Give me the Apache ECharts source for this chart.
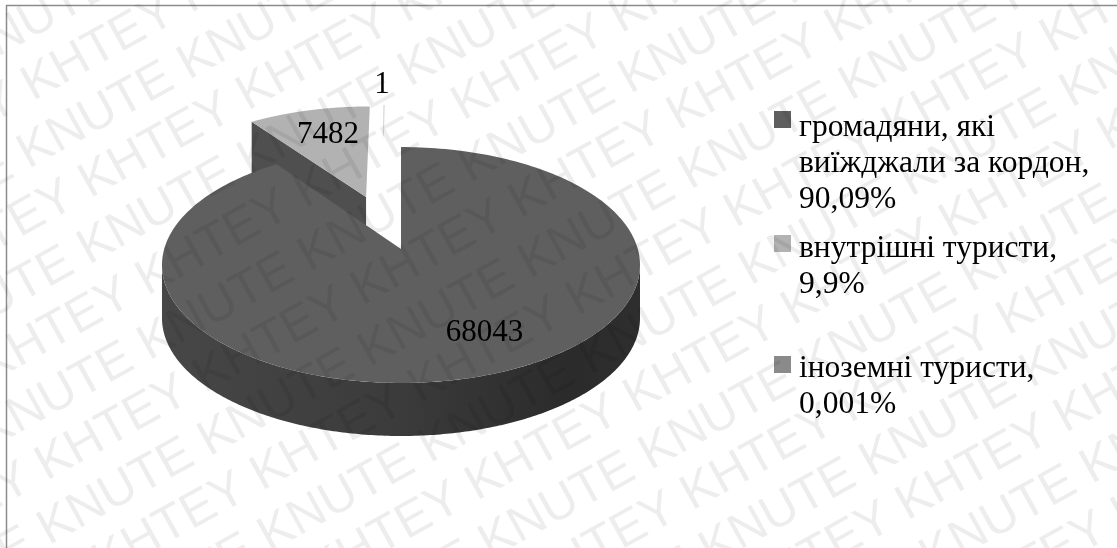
<!DOCTYPE html>
<html><head><meta charset="utf-8">
<style>html,body{margin:0;padding:0;background:#fff}#c{width:1117px;height:548px}</style>
<script src="https://cdn.jsdelivr.net/npm/echarts@6/dist/echarts.min.js"></script>
</head><body><div id="c"></div>
<script>
const categories = ['громадяни, які\nвиїжджали за кордон,\n90,09%', 'внутрішні туристи,\n9,9%', 'іноземні туристи,\n0,001%'];
const values = [68043, 7482, 1];
const colors = ['#5f5f5f', '#b2b2b2', '#8a8a8a'];
const explode = [[0, 0], [-0.148, 0.478], [-0.086, 0.495]];
const labelPos = [[484.5, 333], [328, 135], [382, 85]];
const legendTops = [110, 231, 351];
const legendLines = [3, 2, 2];
const swatchOffsets = [1, 4, 5];

const total = values.reduce((a, b) => a + b, 0);
const AX = 401, AY = 249, B = 236.8, A = 115.8, K = 0.1357, DEPTH = 53;
const FONT = '"Liberation Serif","Times New Roman",serif';

function proj(u, v) { const w = 1 + K * v; return [AX + B * u / w, AY - A * v / w]; }
function rim(th, o) { return proj(Math.sin(th) + o[0], Math.cos(th) + o[1]); }

function renderSlice(i) {
  return function (params, api) {
    const val = api.value(0);
    let before = 0;
    for (let j = 0; j < i; j++) before += values[j];
    const t0 = before / total * Math.PI * 2, t1 = (before + val) / total * Math.PI * 2;
    const o = explode[i];
    const shift = i === 1 ? -2 : 0;
    const P = p => [p[0] + shift, p[1]];
    const apex = P(proj(o[0], o[1]));
    const arc = [];
    const N = 240;
    for (let n = 0; n <= N; n++) arc.push(P(rim(t0 + (t1 - t0) * n / N, o)));
    const kids = [];
    if (i === 0) {
      const a0 = Math.acos(-K), a1 = Math.PI * 2 - a0;
      const topEdge = [], botEdge = [];
      for (let n = 0; n <= N; n++) {
        const p = rim(a0 + (a1 - a0) * n / N, o);
        topEdge.push(p); botEdge.unshift([p[0], p[1] + DEPTH]);
      }
      kids.push({ type: 'polygon', shape: { points: topEdge.concat(botEdge) }, style: {
        fill: new echarts.graphic.LinearGradient(0, 0, 1, 0, [
          { offset: 0, color: '#474747' }, { offset: 0.5, color: '#3b3b3b' },
          { offset: 0.85, color: '#2b2b2b' }, { offset: 1, color: '#2e2e2e' }]) } });
      kids.push({ type: 'polygon', shape: { points: [apex].concat(arc) }, style: { fill: colors[0] } });
    } else if (i === 1) {
      const l = arc[0];
      kids.push({ type: 'polygon', shape: { points: [apex, l, [l[0], l[1] + DEPTH], [apex[0], apex[1] + DEPTH]] }, style: { fill: '#4f4f4f' } });
      kids.push({ type: 'polygon', shape: { points: [apex].concat(arc) }, style: { fill: colors[1] } });
    } else {
      const top = arc[arc.length - 1];
      kids.push({ type: 'polyline', shape: { points: [apex, top] }, style: { fill: null, lineWidth: 1.2,
        stroke: new echarts.graphic.LinearGradient(top[0], top[1], apex[0], apex[1], [
          { offset: 0, color: '#d4d4d4' }, { offset: 0.33, color: '#dcdcdc' }, { offset: 0.37, color: 'rgba(255,255,255,0)' }, { offset: 1, color: 'rgba(255,255,255,0)' }], true) } });
    }
    kids.push({ type: 'text', z2: 10, style: { x: labelPos[i][0], y: labelPos[i][1], text: String(val),
      font: '31px ' + FONT, fill: '#000', align: 'center', verticalAlign: 'middle' } });
    return { type: 'group', children: kids };
  };
}

const series = [2, 1, 0].map(i => ({
  type: 'custom', name: categories[i], coordinateSystem: 'none', silent: true,
  itemStyle: { color: colors[i] }, data: [[values[i]]], renderItem: renderSlice(i), clip: false
}));

const legends = categories.map((c, i) => {
  const h = legendLines[i] * 36, d = swatchOffsets[i];
  return {
    data: [c], left: 774, top: legendTops[i], orient: 'vertical', padding: 0,
    itemWidth: 17, itemHeight: h, selectedMode: false, itemGap: 0,
    icon: 'path://M0 0H0.01V0.01H0Z M0 ' + d + 'H17V' + (d + 17) + 'H0Z M0 ' + h + 'H0.01V' + (h - 0.01) + 'H0Z',
    textStyle: { fontFamily: FONT, fontSize: 31.5, lineHeight: 36, color: '#000', padding: [0, 0, 0, 3] }
  };
});

const wmRows = [];
function wmRow(word, period, perp, phase) {
  wmRows.push({ type: 'text', z: 100, zlevel: 1, silent: true, x: phase - 16.7 - 4 * period, y: perp,
    style: { text: (word + ' ').repeat(12), font: '50px "Liberation Sans",Arial,sans-serif', fill: 'rgba(0,0,0,0.07)', verticalAlign: 'middle' } });
}
for (let k = -1; k <= 8; k++) {
  const p1 = 90.5 + 113 * k, p2 = 148 + 113 * k;
  wmRow('KHTEY', 180.6, p1, -6 + 0.025 * p1);
  wmRow('KNUTE', 183.4, p2, 135 + 0.055 * p2);
}

const chart = echarts.init(document.getElementById('c'), null, { renderer: 'canvas' });
chart.setOption({
  animation: false,
  backgroundColor: '#fff',
  legend: legends,
  series: series,
  graphic: { elements: [
    { type: 'rect', silent: true, z: 90, shape: { x: 6.5, y: 5.5, width: 1400, height: 800 }, style: { fill: null, stroke: '#8c8c8c', lineWidth: 1.5 } },
    { type: 'group', silent: true, z: 100, zlevel: 1, x: 0, y: 0, rotation: 29 * Math.PI / 180, children: wmRows }
  ] }
});
</script></body></html>
